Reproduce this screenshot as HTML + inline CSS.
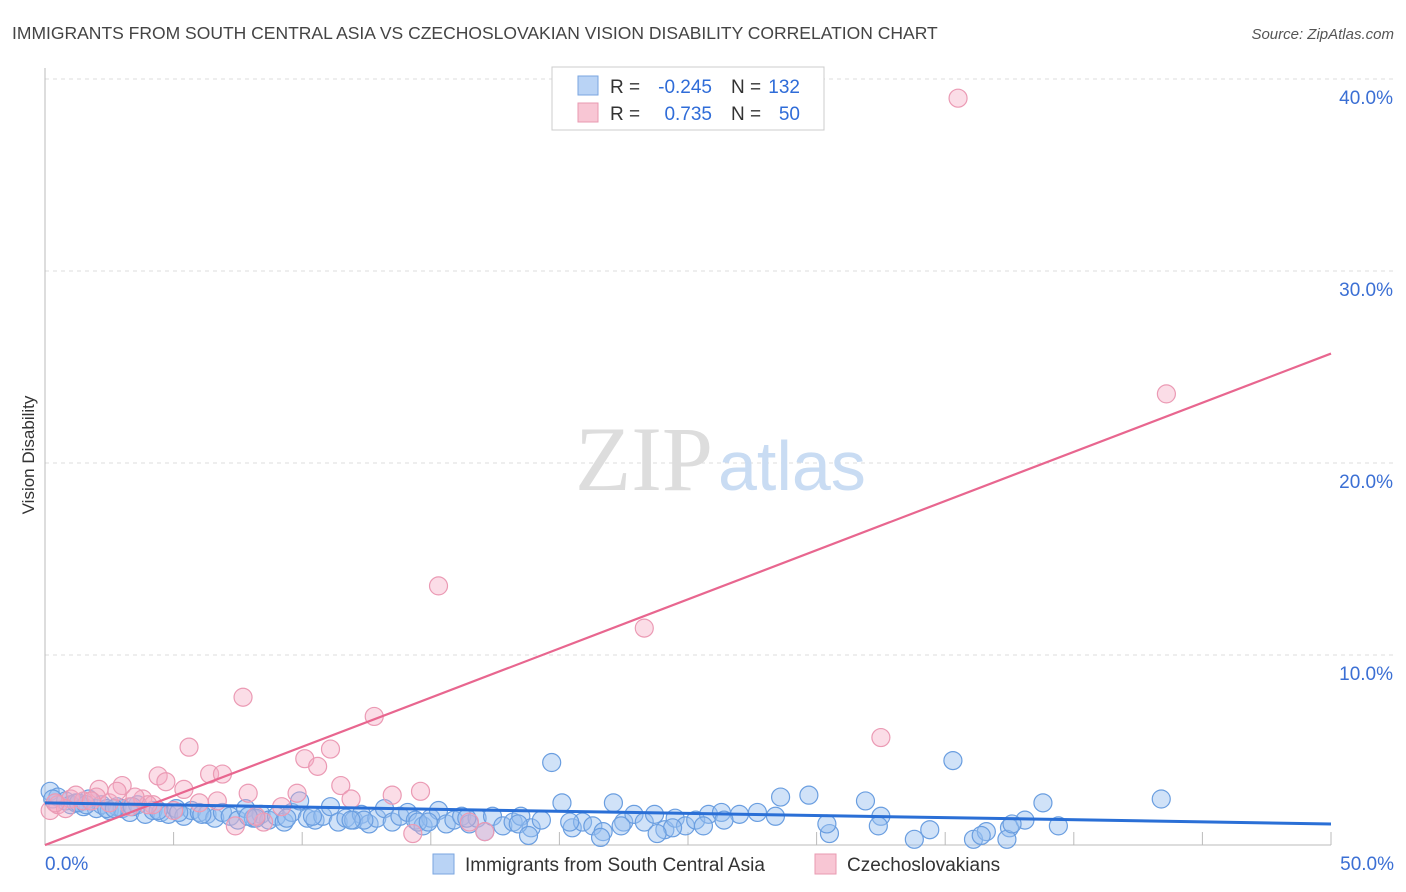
<!DOCTYPE html>
<html><head><meta charset="utf-8"><style>
body{margin:0;background:#fff;font-family:"Liberation Sans",sans-serif;}
#wrap{position:relative;width:1406px;height:892px;overflow:hidden;}
</style></head><body>
<div id="wrap">
<svg id="svg" width="1406" height="892">
<text x="12" y="39" font-size="17.5" fill="#444">IMMIGRANTS FROM SOUTH CENTRAL ASIA VS CZECHOSLOVAKIAN VISION DISABILITY CORRELATION CHART</text>
<text x="1394" y="39" font-size="15" fill="#555" font-style="italic" text-anchor="end">Source: ZipAtlas.com</text>
<text transform="translate(34,455) rotate(-90)" font-size="17" fill="#333" text-anchor="middle">Vision Disability</text>
<g id="grid"></g>
<text x="713" y="490" font-size="92" fill="#ddd" text-anchor="end" font-family="Liberation Serif,serif">ZIP</text>
<text x="718" y="490" font-size="70" fill="#c9dcf3">atlas</text>
<g id="pts"></g>
<g id="lines"></g>
<g>
<rect x="552" y="67" width="272" height="63" fill="#fff" stroke="#ccc"/>
<rect x="578" y="76" width="20" height="19" fill="#b9d3f5" stroke="#7aa6e0"/>
<rect x="578" y="103" width="20" height="19" fill="#f8c6d4" stroke="#e89ab1"/>
<text x="610" y="93" font-size="19" fill="#333">R =</text>
<text x="712" y="93" font-size="19" fill="#2f6cd8" text-anchor="end">-0.245</text>
<text x="731" y="93" font-size="19" fill="#333">N =</text>
<text x="800" y="93" font-size="19" fill="#2f6cd8" text-anchor="end">132</text>
<text x="610" y="120" font-size="19" fill="#333">R =</text>
<text x="712" y="120" font-size="19" fill="#2f6cd8" text-anchor="end">0.735</text>
<text x="731" y="120" font-size="19" fill="#333">N =</text>
<text x="800" y="120" font-size="19" fill="#2f6cd8" text-anchor="end">50</text>
</g>
<g>
<rect x="433" y="854" width="21" height="20" fill="#b9d3f5" stroke="#7aa6e0"/>
<text x="465" y="871" font-size="19" fill="#333">Immigrants from South Central Asia</text>
<rect x="815" y="854" width="21" height="20" fill="#f8c6d4" stroke="#e89ab1"/>
<text x="847" y="871" font-size="19" fill="#333">Czechoslovakians</text>
</g>
</svg>
</div>
<script>
const xTicks=[0,50];
const yTicks=[10,20,30,40];
const blueX=[0.2,0.5,0.8,1,1.2,1.5,1.7,2,2.2,2.5,2.8,3,3.3,3.6,3.9,4.2,4.5,4.8,5.1,5.4,5.7,6,6.3,6.6,6.9,7.2,7.5,7.8,8.1,8.4,8.7,9,9.3,9.6,9.9,10.2,10.5,10.8,11.1,11.4,11.7,12,12.3,12.6,12.9,13.2,13.5,13.8,14.1,14.4,14.7,15,15.3,15.6,15.9,16.2,16.5,16.8,17.1,17.4,17.8,18.2,18.5,18.9,19.3,19.7,20.1,20.5,20.9,21.3,21.7,22.1,22.5,22.9,23.3,23.7,24.1,24.5,24.9,25.3,25.8,26.3,27,27.7,28.6,29.7,30.5,31.9,32.5,33.8,35.3,36.1,36.6,37.5,38.1,38.8,39.4,43.4,0.3,1.3,2.4,3.4,4.4,6.1,8.2,10.4,12.4,14.5,16.4,18.4,20.4,22.4,24.4,26.4,28.4,30.4,32.4,34.4,37.4,18.8,21.6,23.8,36.4,37.6,25.6,14.9,11.9,9.4,7.9,5.2,1.6,2.7];
const blueY=[2.9,2.6,2.4,2.2,2.3,2.1,2.5,2,2.2,1.9,2.1,2,1.8,2.2,1.7,1.9,1.8,1.7,2,1.6,1.9,1.8,1.7,1.5,1.8,1.6,1.4,2,1.5,1.7,1.4,1.6,1.3,1.8,2.4,1.5,1.4,1.6,2.1,1.3,1.5,1.4,1.7,1.2,1.5,2,1.3,1.6,1.8,1.4,1.1,1.5,1.9,1.2,1.4,1.6,1.2,1.5,0.8,1.6,1.1,1.3,1.6,1,1.4,4.4,2.3,1,1.3,1.1,0.8,2.3,1.3,1.7,1.3,1.7,0.9,1.5,1.1,1.4,1.7,1.8,1.7,1.8,2.6,2.7,0.7,2.4,1.6,0.4,4.5,0.4,0.8,1,1.4,2.3,1.1,2.5,2.5,2.3,2,2.1,1.9,1.7,1.5,1.6,1.4,1.3,1.5,1.2,1.3,1.1,1,1.4,1.6,1.2,1.1,0.9,0.4,0.6,0.5,0.7,0.6,1.2,1.1,1.3,1.4,1.5,1.6,1.8,2.2,2];
const pinkX=[35.5,43.6,15.3,23.3,7.7,12.8,32.5,5.6,11.1,10.1,10.6,4.4,6.4,6.9,4.7,3,11.5,14.6,5.4,7.9,9.8,11.9,13.5,2.1,0.2,7.4,8.5,14.3,17.1,0.5,1,1.5,2,2.5,3.3,3.8,4.2,5,6,6.7,8.2,9.2,1.2,2.8,4,0.8,1.8,3.5,16.5,0.4];
const pinkY=[39,23.6,13.6,11.4,7.8,6.8,5.7,5.2,5.1,4.6,4.2,3.7,3.8,3.8,3.4,3.2,3.2,2.9,3,2.8,2.8,2.5,2.7,3,1.9,1.1,1.3,0.7,0.8,2.2,2.5,2.4,2.6,2.3,2.1,2.5,2.2,1.9,2.3,2.4,1.6,2.1,2.7,2.9,2.2,2,2.4,2.6,1.3,2.3];
const blueLine=[2.3,1.2];
const pinkLine=[0.1,25.7];
const X0=45,X1=1331,Y0=847;
const sx=v=>X0+(X1-X0)*v/50;
const sy=v=>Y0-19.2*v;
const NS="http://www.w3.org/2000/svg";
function mk(t,a,p){const e=document.createElementNS(NS,t);for(const k in a)e.setAttribute(k,a[k]);p.appendChild(e);return e;}
const grid=document.getElementById('grid');
yTicks.forEach(v=>{
 const l=mk('line',{x1:X0,x2:1394,y1:sy(v),y2:sy(v),stroke:'#ddd','stroke-dasharray':'4,4'},grid);
 
 
 const t=mk('text',{x:1393,y:sy(v)+25,'font-size':19,fill:'#3b6fd4','text-anchor':'end'},grid);
 t.textContent=v.toFixed(1)+'%';
 
 
});
mk('line',{x1:X0,x2:X0,y1:68,y2:845,stroke:'#bbb'},grid);
mk('line',{x1:X0,x2:X1,y1:845,y2:845,stroke:'#bbb'},grid);
for(let i=0;i<=10;i++){mk('line',{x1:sx(i*5),x2:sx(i*5),y1:832,y2:845,stroke:'#bbb'},grid);}
xTicks.forEach((v,i)=>{
 const t=mk('text',{x:i?1394:45,y:870,'font-size':19,fill:'#3b6fd4','text-anchor':i?'end':'start'},grid);
 t.textContent=v.toFixed(1)+'%';
 
 
});
const pts=document.getElementById('pts');
blueX.forEach((x,i)=>{
 const c=mk('circle',{cx:sx(x),cy:sy(blueY[i]),r:9,fill:'rgba(150,190,240,0.45)',stroke:'#6a9ee0','stroke-width':1.2},pts);
 
 
});
pinkX.forEach((x,i)=>{
 const c=mk('circle',{cx:sx(x),cy:sy(pinkY[i]),r:9,fill:'rgba(245,170,195,0.4)',stroke:'#eb9ab4','stroke-width':1.2},pts);
 
 
});
const lines=document.getElementById('lines');
const pl=mk('line',{x1:sx(0),y1:sy(pinkLine[0]),x2:sx(50),y2:sy(pinkLine[1]),stroke:'#e8668f','stroke-width':2.2},lines);


const bl=mk('line',{x1:sx(0),y1:sy(blueLine[0]),x2:sx(50),y2:sy(blueLine[1]),stroke:'#2a6fd6','stroke-width':3},lines);


</script>
</body></html>
